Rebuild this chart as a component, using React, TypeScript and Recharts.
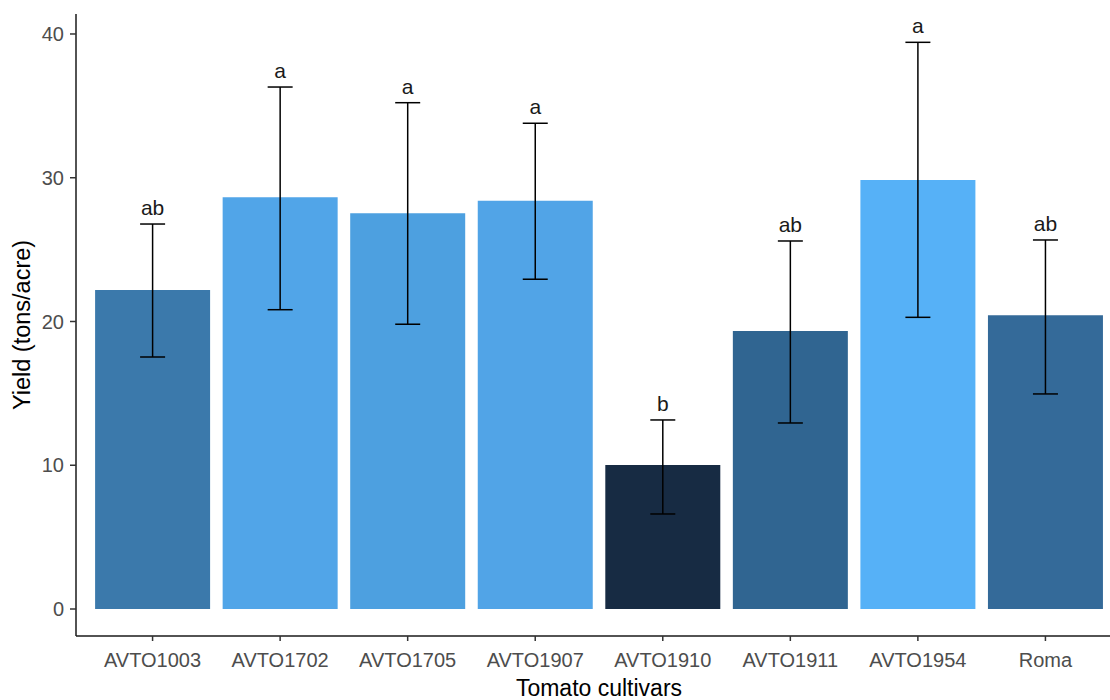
import { ComposedChart, Bar, Line, XAxis, YAxis, ErrorBar, Cell, LabelList, Label } from 'recharts';

// Mean yield per cultivar with the bounds of its error bar (tons/acre)
const cultivars = ['AVTO1003', 'AVTO1702', 'AVTO1705', 'AVTO1907', 'AVTO1910', 'AVTO1911', 'AVTO1954', 'Roma'];
const meanYield = [22.19, 28.64, 27.53, 28.4, 10.02, 19.34, 29.84, 20.43];
const lowerBound = [17.53, 20.82, 19.81, 22.94, 6.61, 12.94, 20.29, 14.96];
const upperBound = [26.78, 36.31, 35.22, 33.79, 13.15, 25.6, 39.42, 25.67];
const groupLetters = ['ab', 'a', 'a', 'a', 'b', 'ab', 'a', 'ab'];
const yTicks = [0, 10, 20, 30, 40];

// fill follows the mean (dark navy for low yield -> light blue for high)
const barFills = ['#3b79ab', '#51a5e8', '#4da0e0', '#51a4e7', '#172b43', '#306591', '#56b1f7', '#346a99'];

const chartData = cultivars.map((name, i) => ({
    name,
    mean: meanYield[i],
    high: upperBound[i],
    err: [meanYield[i] - lowerBound[i], upperBound[i] - meanYield[i]],
    letter: groupLetters[i],
}));

const FONT = '"Liberation Sans", Arial, sans-serif';

const LetterLabel = (props: any) => {
    const { x, y, value } = props;
    return (
        <text x={x} y={y - 9} textAnchor="middle" fontFamily={FONT} fontSize={21} fill="#1a1a1a">
            {value}
        </text>
    );
};

export default function App() {
    return (
        <div style={{ position: 'fixed', left: 0, top: 0, width: 1110, height: 700, overflow: 'hidden', background: '#fff' }}>
            <ComposedChart
                width={1122}
                height={700}
                data={chartData}
                margin={{ top: 14, right: 0, bottom: 0, left: 0 }}
                barCategoryGap={6.3}
            >
                <XAxis
                    dataKey="name"
                    height={64}
                    padding={{ left: 12.8, right: 12.8 }}
                    interval={0}
                    tickSize={5}
                    tickMargin={12}
                    axisLine={{ stroke: '#1a1a1a', strokeWidth: 1.5 }}
                    tickLine={{ stroke: '#333', strokeWidth: 1.5 }}
                    tick={{ fill: '#4d4d4d', fontSize: 20, fontFamily: FONT }}
                >
                    <Label
                        content={({ viewBox }: any) => (
                            <text
                                x={viewBox.x + viewBox.width / 2}
                                y={viewBox.y + 60}
                                textAnchor="middle"
                                fontFamily={FONT}
                                fontSize={23}
                                fill="#000"
                            >
                                Tomato cultivars
                            </text>
                        )}
                    />
                </XAxis>
                <YAxis
                    width={76}
                    domain={[-1.878, 41.39]}
                    ticks={yTicks}
                    allowDataOverflow
                    interval={0}
                    tickSize={6}
                    tickMargin={6}
                    axisLine={{ stroke: '#1a1a1a', strokeWidth: 1.5 }}
                    tickLine={{ stroke: '#333', strokeWidth: 1.5 }}
                    tick={{ fill: '#4d4d4d', fontSize: 20, fontFamily: FONT }}
                >
                    <Label
                        content={({ viewBox }: any) => {
                            const cy = viewBox.y + viewBox.height / 2;
                            return (
                                <text
                                    x={30}
                                    y={cy}
                                    transform={`rotate(-90, 30, ${cy})`}
                                    textAnchor="middle"
                                    fontFamily={FONT}
                                    fontSize={23.5}
                                    fill="#000"
                                >
                                    Yield (tons/acre)
                                </text>
                            );
                        }}
                    />
                </YAxis>
                <Bar dataKey="mean" isAnimationActive={false}>
                    {chartData.map((d, i) => (
                        <Cell key={d.name} fill={barFills[i]} />
                    ))}
                    <ErrorBar dataKey="err" direction="y" width={12.5} stroke="#000" strokeWidth={1.5} />
                </Bar>
                {/* invisible series at the top of each error bar, carries the group letters */}
                <Line dataKey="high" stroke="none" dot={false} activeDot={false} isAnimationActive={false}>
                    <LabelList dataKey="letter" content={LetterLabel} />
                </Line>
            </ComposedChart>
        </div>
    );
}
